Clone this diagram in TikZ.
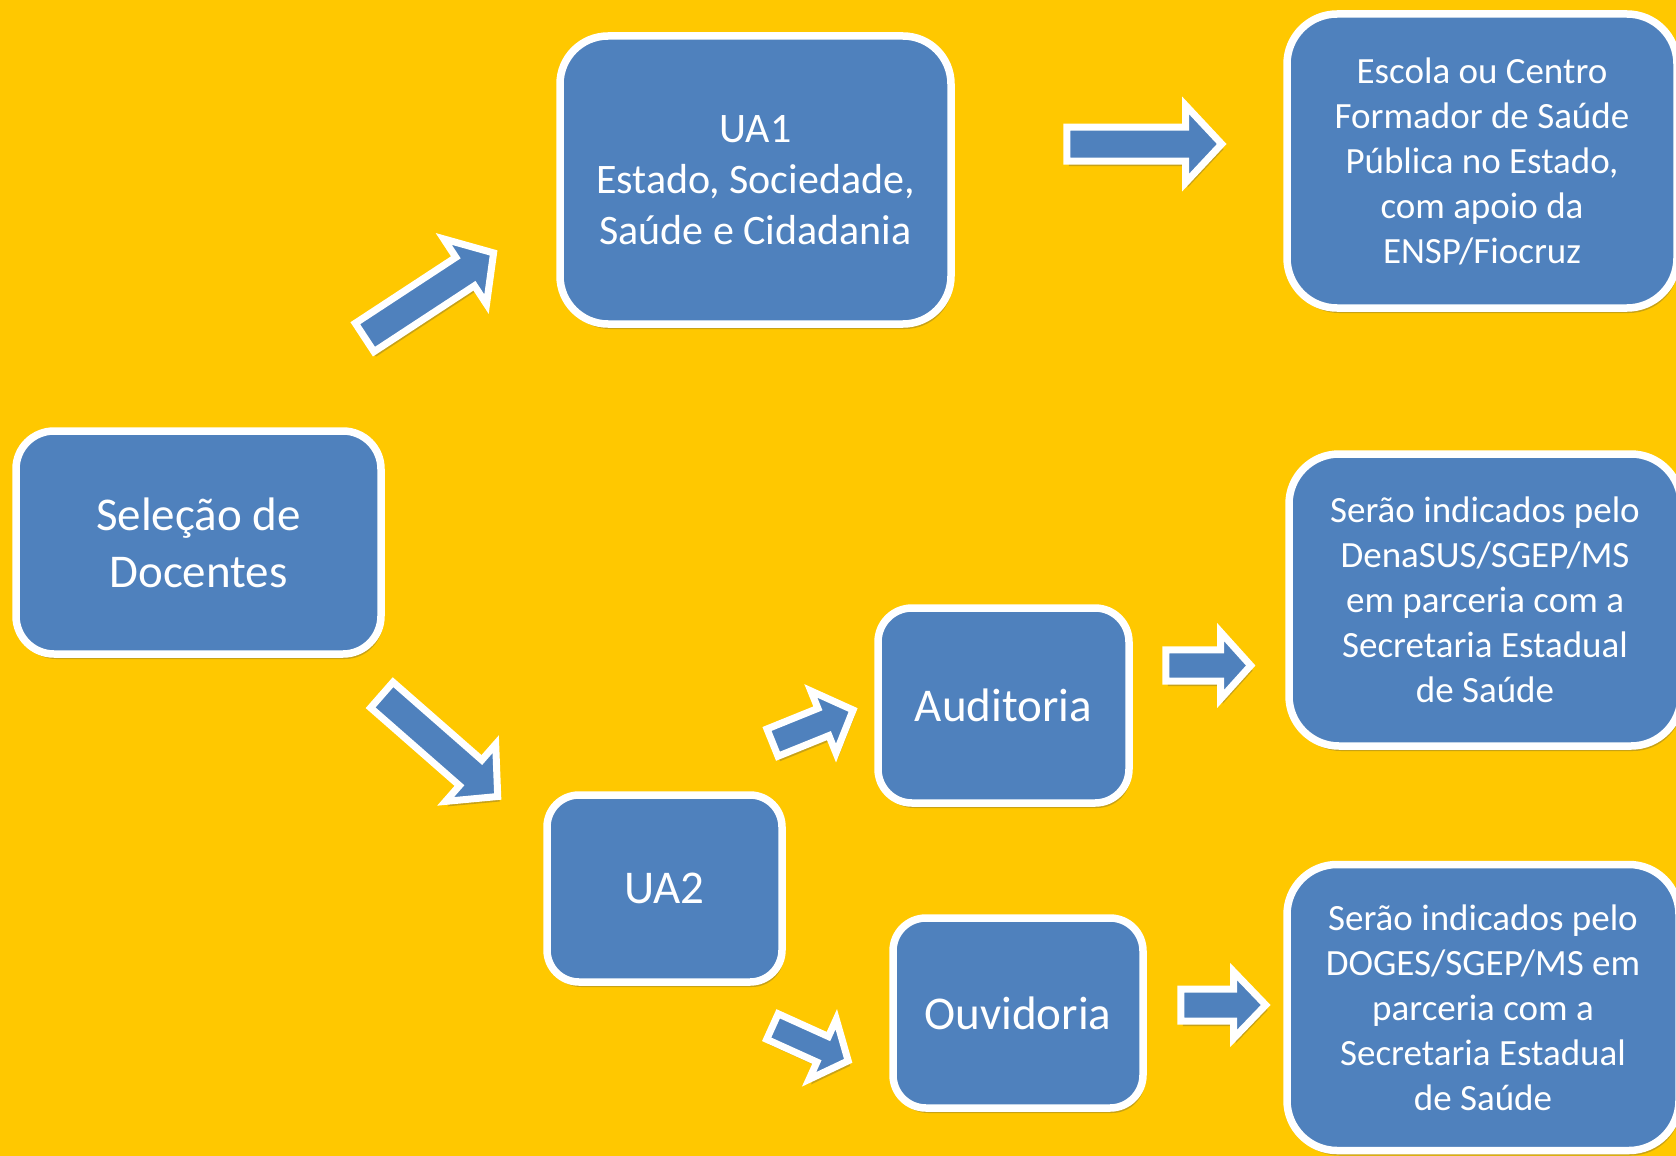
\documentclass[tikz,border=0pt]{standalone}
\usepackage{fontspec}
\setmainfont{Carlito}
\usetikzlibrary{calc,shadows}

\definecolor{bgyellow}{RGB}{255,200,0}
\definecolor{boxblue}{RGB}{79,129,189}

\begin{document}
\begin{tikzpicture}[x=1pt,y=-1pt,
    shade/.style={drop shadow={shadow xshift=2pt,shadow yshift=-5pt,opacity=0.3,fill=black!70}},
    box/.style={draw=white,line width=7.5pt,fill=boxblue,text=white,align=center,shade},
    blockarrow/.style={draw=white,line width=7pt,fill=boxblue,line join=miter,shade},
    bigtext/.style={font=\fontsize{47}{57}\selectfont},
    midtext/.style={font=\fontsize{42}{51}\selectfont},
    smalltext/.style={font=\fontsize{37}{45}\selectfont}]

        % Background
        \useasboundingbox[fill=bgyellow] (0,0) rectangle (1676,1156);

        % Boxes
        \node[box,bigtext,minimum width=365pt,minimum height=223pt,rounded corners=38pt] (sel) at (198.5,542.5) {Seleção de\\Docentes};
        \node[box,midtext,minimum width=391pt,minimum height=288pt,rounded corners=48pt] (ua1) at (755.5,180) {UA1\\Estado, Sociedade,\\Saúde e Cidadania};
        \node[box,smalltext,minimum width=390pt,minimum height=294pt,rounded corners=50pt] (escola) at (1482,161) {Escola ou Centro\\Formador de Saúde\\Pública no Estado,\\com apoio da\\ENSP/Fiocruz};
        \node[box,bigtext,minimum width=251pt,minimum height=195pt,rounded corners=34pt] (aud) at (1003.5,705.5) {Auditoria};
        \node[box,smalltext,minimum width=392pt,minimum height=292pt,rounded corners=50pt] (serao1) at (1485,600) {Serão indicados pelo\\DenaSUS/SGEP/MS\\em parceria com a\\Secretaria Estadual\\de Saúde};
        \node[box,bigtext,minimum width=235pt,minimum height=187pt,rounded corners=32pt] (ua2) at (664.5,888.5) {UA2};
        \node[box,bigtext,minimum width=250pt,minimum height=190pt,rounded corners=33pt] (ouv) at (1018,1013) {Ouvidoria};
        \node[box,smalltext,minimum width=392pt,minimum height=286pt,rounded corners=50pt] (serao2) at (1483,1007.5) {Serão indicados pelo\\DOGES/SGEP/MS em\\parceria com a\\Secretaria Estadual\\de Saúde};

        % Tail and tip of each block arrow
        \coordinate (a1-t) at (361.5,339.5);  \coordinate (a1-p) at (498,250);
        \coordinate (a2-t) at (1063,144);     \coordinate (a2-p) at (1227,144);
        \coordinate (a3-t) at (379,692.5);    \coordinate (a3-p) at (501.7,800);
        \coordinate (a4-t) at (769,744);      \coordinate (a4-p) at (858,708);
        \coordinate (a5-t) at (1162,665.5);   \coordinate (a5-p) at (1256,665.5);
        \coordinate (a6-t) at (769,1025);     \coordinate (a6-p) at (853,1063);
        \coordinate (a7-t) at (1177,1005);    \coordinate (a7-p) at (1271,1005);

        % Draw the block arrows (shaft half width, head half width, head length)
        \foreach \a/\sh/\hw/\hl in {a1/17/39/34, a2/17/38.5/36, a3/17/38/36, a4/14.7/33.5/32,
                                    a5/15.7/33.3/30, a6/14/33/28, a7/16/33.3/32} {
            \coordinate (tailpt) at ($(\a-t)!3.75pt!(\a-p)$);
            \coordinate (tippt) at ($(\a-p)!5.3pt!(\a-t)$);
            \coordinate (headpt) at ($(tippt)!\hl pt!(tailpt)$);
            \draw[blockarrow] ($(tailpt)!\sh pt!90:(tippt)$) -- ($(headpt)!\sh pt!90:(tippt)$)
                -- ($(headpt)!\hw pt!90:(tippt)$) -- (tippt) -- ($(headpt)!\hw pt!-90:(tippt)$)
                -- ($(headpt)!\sh pt!-90:(tippt)$) -- ($(tailpt)!\sh pt!-90:(tippt)$) -- cycle;
        }
    \end{tikzpicture}
\end{document}
